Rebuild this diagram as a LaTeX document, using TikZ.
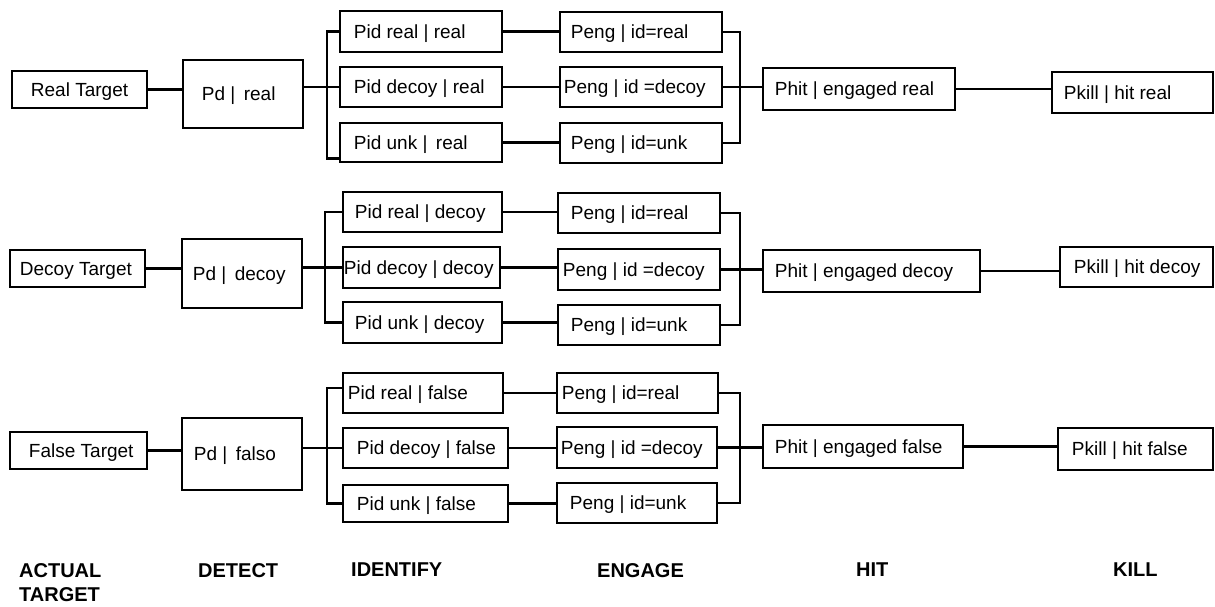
\documentclass[tikz,border=0pt]{standalone}
\usepackage{fontspec}
\setmainfont{Liberation Sans}
\begin{document}
\begin{tikzpicture}[x=1pt,y=-1pt,
  bx/.style={draw, line width=2.5pt, inner sep=0pt},
  txt/.style={font=\fontsize{19}{22}\selectfont, inner sep=0pt},
  ln/.style={line width=2.5pt},
  hd/.style={font=\fontsize{20}{24}\selectfont\bfseries, inner sep=0pt, anchor=north west, align=left}]
\useasboundingbox[fill=white] (0,0) rectangle (1215,606);
\newcommand\mybox[7][12]{%
  \pgfmathsetmacro\bw{#5-#3}\pgfmathsetmacro\bh{#6-#4}%
  \pgfmathsetmacro\bxc{(#3+#5)/2}\pgfmathsetmacro\byc{(#4+#6)/2}%
  \node[bx, minimum width=\bw pt, minimum height=\bh pt] (#2) at (\bxc,\byc) {};
  \node[txt, anchor=west] (#2t) at ([xshift=#1pt,yshift=-2pt]#2.west) {#7};
}
% ---------- Row 1 ----------
\mybox[20]{rtA}{12}{71}{147}{108}{Real Target}
\mybox[20]{pdA}{183}{60}{303}{128}{Pd |\, real}
\mybox[15]{iaA}{340}{11}{502}{52}{Pid real | real}
\mybox[15]{ibA}{340}{67}{502}{107}{Pid decoy | real}
\mybox[15]{icA}{340}{123}{502}{162}{Pid unk |\, real}
\mybox[12]{eaA}{560}{12}{722}{52}{Peng | id=real}
\mybox[5]{ebA}{560}{67}{722}{107}{Peng | id =decoy}
\mybox[12]{ecA}{560}{123}{722}{163}{Peng | id=unk}
\mybox[13]{phA}{763}{68}{955}{110}{Phit | engaged real}
\mybox[13]{pkA}{1052}{72}{1213}{113}{Pkill | hit real}
\coordinate (blA) at (327,0);
\coordinate (brA) at (740,0);
% ---------- Row 2 ----------
\mybox[11]{rtB}{10}{250}{145}{287}{Decoy Target}
\mybox[12]{pdB}{182}{239}{302}{308}{Pd |\, decoy}
\mybox[13]{iaB}{343}{192}{502}{232}{Pid real | decoy}
\mybox[2]{ibB}{343}{247}{500}{288}{Pid decoy | decoy}
\mybox[13]{icB}{343}{302}{502}{343}{Pid unk | decoy}
\mybox[14]{eaB}{558}{193}{720}{233}{Peng | id=real}
\mybox[6]{ebB}{558}{249}{720}{290}{Peng | id =decoy}
\mybox[14]{ecB}{558}{305}{720}{345}{Peng | id=unk}
\mybox[13]{phB}{763}{250}{980}{292}{Phit | engaged decoy}
\mybox[15]{pkB}{1060}{247}{1213}{287}{Pkill | hit decoy}
\coordinate (blB) at (325,0);
\coordinate (brB) at (740,0);
% ---------- Row 3 ----------
\mybox[20]{rtC}{10}{432}{147}{469}{False Target}
\mybox[13]{pdC}{182}{418}{302}{490}{Pd |\, falso}
\mybox[6]{iaC}{343}{373}{503}{413}{Pid real | false}
\mybox[15]{ibC}{343}{428}{508}{468}{Pid decoy | false}
\mybox[15]{icC}{343}{485}{508}{522}{Pid unk | false}
\mybox[6]{eaC}{557}{373}{718}{413}{Peng | id=real}
\mybox[5]{ebC}{557}{427}{717}{468}{Peng | id =decoy}
\mybox[14]{ecC}{557}{483}{717}{523}{Peng | id=unk}
\mybox[13]{phC}{763}{425}{963}{468}{Phit | engaged false}
\mybox[15]{pkC}{1058}{428}{1213}{470}{Pkill | hit false}
\coordinate (blC) at (327,0);
\coordinate (brC) at (740,0);
% ---------- connectors ----------
\foreach \r in {A,B,C}{
  \draw[ln] (rt\r.east) -- (rt\r.east -| pd\r.west);
  \draw[ln] (ib\r.west) -- (ib\r.west -| pd\r.east);
  \draw[ln] (ia\r.east) -- (ia\r.east -| ea\r.west);
  \draw[ln] (ib\r.east) -- (ib\r.east -| eb\r.west);
  \draw[ln] (ic\r.east) -- (ic\r.east -| ec\r.west);
  \draw[ln] (ea\r.east) -- (ea\r.east -| br\r) |- (ec\r.east);
  \draw[ln] (eb\r.east) -- (eb\r.east -| ph\r.west);
  \draw[ln] (ph\r.east) -- (ph\r.east -| pk\r.west);
}
\draw[ln] (iaA.west) -- (iaA.west -| blA) |- ([yshift=-16pt]icA.west);
\draw[ln] (iaB.west) -- (iaB.west -| blB) |- (icB.west);
\draw[ln] ([yshift=5pt]iaC.west) -- ([yshift=5pt]iaC.west -| blC) |- (icC.west);
% ---------- column headings ----------
\node[hd] (hA) at (19,563) {ACTUAL\\TARGET};
\node[hd] (hD) at (198,563) {DETECT};
\node[hd] (hI) at (351,563) {IDENTIFY};
\node[hd] (hE) at (597,563) {ENGAGE};
\node[hd] (hH) at (856,563) {HIT};
\node[hd] (hK) at (1113,563) {KILL};
\end{tikzpicture}
\end{document}
